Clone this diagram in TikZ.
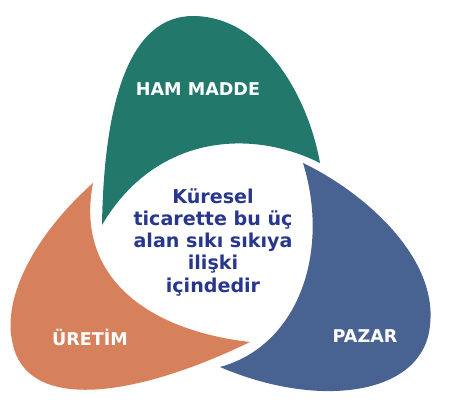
\documentclass[tikz,border=0pt]{standalone}
\usepackage{fontspec}
\setmainfont{DejaVu Sans}
\usepackage{xcolor}
\usepackage{tikz}

\definecolor{hamgreen}{RGB}{35,120,108}
\definecolor{uretimorange}{RGB}{214,128,92}
\definecolor{pazarblue}{RGB}{72,98,145}
\definecolor{textblue}{RGB}{40,55,140}

\begin{document}
\begin{tikzpicture}[x=0.03cm, y=-0.03cm, % pixel-like units, y downwards
		petallabel/.style={text=white, font=\fontsize{15}{18}\selectfont\bfseries, anchor=base, inner sep=0pt},
		centertext/.style={text=textblue, font=\fontsize{16.3}{19}\selectfont\bfseries, align=center, inner sep=0pt}
		]
		\useasboundingbox (0,0) rectangle (452,411);
		
		% Ham madde petal (top)
		\fill[hamgreen] (102,225) .. controls (104,100) and (130,16) .. (193,16)
			.. controls (262,16) and (308,95) .. (320,163)
			.. controls (250,128) and (155,135) .. (102,225) -- cycle;
		
		% Pazar petal (right)
		\fill[pazarblue] (303,163) .. controls (360,190) and (438,255) .. (430,325)
			.. controls (424,395) and (320,410) .. (220,367)
			.. controls (300,345) and (330,250) .. (303,163) -- cycle;
		
		% Uretim petal (left)
		\fill[uretimorange] (93,183) .. controls (40,230) and (0,295) .. (13,345)
			.. controls (28,410) and (130,400) .. (250,342)
			.. controls (145,330) and (75,275) .. (93,183) -- cycle;
		
		% Labels
		\node[petallabel] (hammadde) at (198,95) {HAM MADDE};
		\node[petallabel] (uretim) at (90,345) {ÜRETİM};
		\node[petallabel] (pazar) at (365,342) {PAZAR};
		
		% Centre text
		\node[centertext] (centre) at (213,242) {Küresel\\ticarette bu üç\\alan sıkı sıkıya\\ilişki\\içindedir};
		
	\end{tikzpicture}
\end{document}
